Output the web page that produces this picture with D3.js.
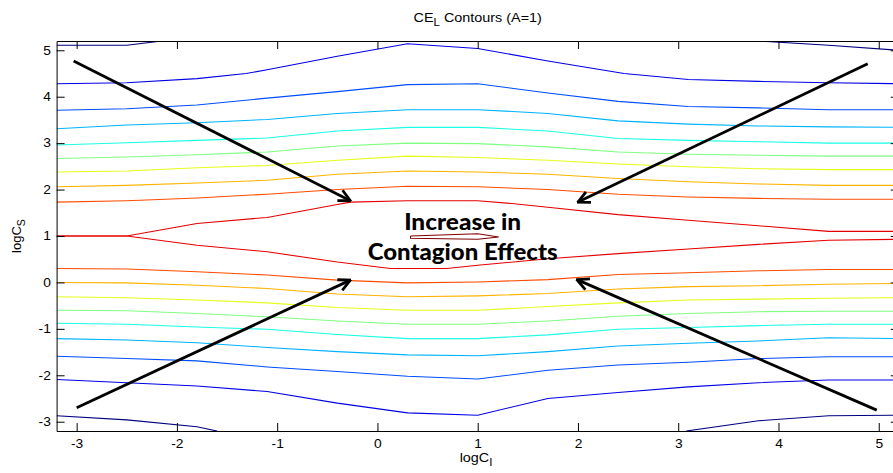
<!DOCTYPE html>
<html>
<head>
<meta charset="utf-8">
<script src="https://cdn.jsdelivr.net/npm/d3@7"></script>
<style>
  body { margin: 0; background: #fff; }
  svg { display: block; font-family: "Liberation Sans", Arial, sans-serif; }
</style>
</head>
<body>
<div id="chart"></div>
<script>
// axis ticks
const xTicks = [-3, -2, -1, 0, 1, 2, 3, 4, 5];
const yTicks = [-3, -2, -1, 0, 1, 2, 3, 4, 5];

// contour lines, points are [logC_I, logC_S]
// one array per contour level, outermost (lowest) level first
const level1 = [
  [[-3.2, 5.11], [-2.5, 5.11], [-2.15, 5.2]],
  [[3.8, 5.2], [4.5, 5.11], [5.2, 5.0]],
  [[-3.2, -2.87], [-2.5, -2.96], [-1.8, -3.11], [-1.6, -3.2]],
  [[3.08, -3.2], [3.8, -2.98], [4.5, -2.87], [5.2, -2.86]]
];
const level2 = [
  [[-3.2, 4.28], [-2.5, 4.30], [-1.8, 4.39], [-1.31, 4.5], [-1.1, 4.58], [-0.4, 4.87], [0.3, 5.14], [1.0, 5.04], [1.7, 4.77], [2.46, 4.5], [3.1, 4.37], [3.8, 4.33], [4.5, 4.30], [5.2, 4.28]],
  [[-3.2, -2.09], [-2.5, -2.16], [-1.8, -2.23], [-1.1, -2.35], [-0.4, -2.60], [0.3, -2.81], [1.0, -2.86], [1.7, -2.50], [2.4, -2.37], [3.1, -2.25], [3.8, -2.16], [4.5, -2.10], [5.2, -2.10]]
];
const level3 = [
  [[-3.2, 3.71], [-2.5, 3.74], [-1.8, 3.82], [-1.1, 3.97], [-0.4, 4.11], [0.3, 4.26], [1.0, 4.28], [1.7, 4.08], [2.4, 3.90], [3.1, 3.79], [3.8, 3.76], [4.5, 3.72], [5.2, 3.72]],
  [[-3.2, -1.59], [-2.5, -1.64], [-1.8, -1.69], [-1.1, -1.82], [-0.4, -1.92], [0.3, -2.02], [1.0, -2.08], [1.7, -1.89], [2.4, -1.78], [3.1, -1.72], [3.8, -1.64], [4.5, -1.60], [5.2, -1.60]]
];
const level4 = [
  [[-3.2, 3.31], [-2.5, 3.39], [-1.8, 3.44], [-1.1, 3.51], [-0.4, 3.64], [0.3, 3.72], [1.0, 3.72], [1.7, 3.64], [2.4, 3.48], [3.1, 3.41], [3.8, 3.37], [4.5, 3.35], [5.2, 3.34]],
  [[-3.2, -1.21], [-2.5, -1.24], [-1.8, -1.30], [-1.1, -1.40], [-0.4, -1.49], [0.3, -1.56], [1.0, -1.58], [1.7, -1.49], [2.4, -1.37], [3.1, -1.31], [3.8, -1.26], [4.5, -1.19], [5.2, -1.21]]
];
const level5 = [
  [[-3.2, 2.96], [-2.5, 3.01], [-1.8, 3.06], [-1.1, 3.11], [-0.4, 3.26], [0.3, 3.34], [1.0, 3.34], [1.7, 3.26], [2.4, 3.10], [3.1, 3.06], [3.8, 3.03], [4.5, 3.00], [5.2, 3.00]],
  [[-3.2, -0.88], [-2.5, -0.90], [-1.8, -0.96], [-1.1, -1.01], [-0.4, -1.12], [0.3, -1.21], [1.0, -1.21], [1.7, -1.13], [2.4, -1.01], [3.1, -0.97], [3.8, -0.93], [4.5, -0.90], [5.2, -0.90]]
];
const level6 = [
  [[-3.2, 2.67], [-2.5, 2.70], [-1.8, 2.75], [-1.1, 2.81], [-0.4, 2.94], [0.3, 3.00], [1.0, 2.99], [1.7, 2.92], [2.4, 2.81], [3.1, 2.76], [3.8, 2.74], [4.5, 2.72], [5.2, 2.72]],
  [[-3.2, -0.60], [-2.5, -0.61], [-1.8, -0.67], [-1.1, -0.74], [-0.4, -0.83], [0.3, -0.90], [1.0, -0.90], [1.7, -0.83], [2.4, -0.73], [3.1, -0.67], [3.8, -0.63], [4.5, -0.62], [5.2, -0.62]]
];
const level7 = [
  [[-3.2, 2.38], [-2.5, 2.40], [-1.8, 2.47], [-1.1, 2.52], [-0.4, 2.63], [0.3, 2.72], [1.0, 2.69], [1.7, 2.63], [2.4, 2.55], [3.1, 2.49], [3.8, 2.45], [4.5, 2.43], [5.2, 2.43]],
  [[-3.2, -0.31], [-2.5, -0.33], [-1.8, -0.38], [-1.1, -0.44], [-0.4, -0.54], [0.3, -0.60], [1.0, -0.60], [1.7, -0.52], [2.4, -0.44], [3.1, -0.38], [3.8, -0.36], [4.5, -0.34], [5.2, -0.33]]
];
const level8 = [
  [[-3.2, 2.06], [-2.5, 2.09], [-1.8, 2.14], [-1.1, 2.20], [-0.4, 2.33], [0.3, 2.40], [1.0, 2.38], [1.7, 2.33], [2.4, 2.24], [3.1, 2.17], [3.8, 2.12], [4.5, 2.09], [5.2, 2.09]],
  [[-3.2, 0.00], [-2.5, -0.01], [-1.8, -0.06], [-1.1, -0.13], [-0.4, -0.25], [0.3, -0.31], [1.0, -0.29], [1.7, -0.24], [2.4, -0.14], [3.1, -0.09], [3.8, -0.07], [4.5, -0.04], [5.2, -0.02]]
];
const level9 = [
  [[-3.2, 1.73], [-2.5, 1.76], [-1.8, 1.82], [-1.1, 1.90], [-0.4, 2.00], [0.3, 2.07], [1.0, 2.06], [1.7, 2.00], [2.4, 1.90], [3.1, 1.84], [3.8, 1.81], [4.5, 1.79], [5.2, 1.79]],
  [[-3.2, 0.30], [-2.5, 0.29], [-1.8, 0.23], [-1.1, 0.16], [-0.4, 0.05], [0.3, -0.01], [1.0, 0.01], [1.7, 0.06], [2.4, 0.17], [3.1, 0.21], [3.8, 0.25], [4.5, 0.28], [5.2, 0.28]]
];
const level10 = [
  [[-3.2, 1.0], [-2.5, 1.0], [-1.8, 1.27], [-1.1, 1.40], [-0.4, 1.68], [-0.27, 1.73], [0.3, 1.76], [1.0, 1.76], [1.34, 1.70], [1.7, 1.62], [2.4, 1.46], [3.1, 1.34], [3.8, 1.22], [4.5, 1.10], [5.2, 1.10]],
  [[-3.2, 1.0], [-2.5, 1.0], [-1.8, 0.80], [-1.1, 0.66], [-0.4, 0.44], [0.13, 0.30], [0.69, 0.30], [1.0, 0.37], [1.7, 0.51], [2.4, 0.62], [3.1, 0.72], [3.8, 0.82], [4.5, 0.91], [5.2, 0.93]]
];
const level11 = [
  [[0.33, 1.0], [1.0, 1.05], [1.21, 0.98], [1.0, 0.93], [0.33, 0.95], [0.33, 1.0]]
];
const levels = [level1, level2, level3, level4, level5, level6, level7, level8, level9, level10, level11];

// annotation arrows: [x0, y0, x1, y1] in data units, head at (x1, y1)
const arrows = [
  [-3.03, 4.77, -0.27, 1.76],
  [4.89, 4.71, 2.00, 1.73],
  [-3.00, -2.70, -0.27, 0.05],
  [4.98, -2.75, 1.99, 0.06]
];
const noteLines = ["Increase in", "Contagion Effects"];

const W = 893, H = 473;
const stretch = 1.15; // the figure text is a little wide

// matlab jet colormap
function jet(t) {
  const c = v => Math.round(255 * Math.max(0, Math.min(1, 1.5 - Math.abs(4 * t - v))));
  return "rgb(" + c(3) + "," + c(2) + "," + c(1) + ")";
}

const x = d3.scaleLinear().domain([-3.2, 5.2]).range([56.6, 898.8]);
const y = d3.scaleLinear().domain([-3.2, 5.2]).range([431, 41]);

const svg = d3.select("#chart").append("svg")
  .attr("width", W)
  .attr("height", H);

svg.append("defs").append("clipPath")
  .attr("id", "plotclip")
  .append("rect")
  .attr("x", x(-3.2)).attr("y", y(5.2))
  .attr("width", x(5.2) - x(-3.2))
  .attr("height", y(-3.2) - y(5.2));

svg.select("defs").append("marker")
  .attr("id", "head")
  .attr("viewBox", "0 0 12 12")
  .attr("refX", 11).attr("refY", 6)
  .attr("markerWidth", 14).attr("markerHeight", 14)
  .attr("markerUnits", "userSpaceOnUse")
  .attr("orient", "auto")
  .append("path")
  .attr("d", "M1,1 L11,6 L1,11")
  .attr("fill", "none")
  .attr("stroke", "#000")
  .attr("stroke-width", 2.4);

const line = d3.line().x(d => x(d[0])).y(d => y(d[1]));

// contour lines
const gLines = svg.append("g").attr("clip-path", "url(#plotclip)");
levels.forEach((segs, i) => {
  gLines.selectAll(null)
    .data(segs)
    .enter()
    .append("path")
    .attr("d", line)
    .attr("fill", "none")
    .attr("stroke", jet(i / 10))
    .attr("stroke-width", 1.1);
});

// axes, matlab style box with inward ticks
function styleAxis(g) {
  g.attr("font-size", 12).attr("font-family", '"Liberation Sans", Arial, sans-serif');
  g.select(".domain").attr("stroke", "#000").attr("stroke-width", 1);
  g.selectAll(".tick line").attr("stroke", "#000");
  g.selectAll(".tick text").attr("fill", "#000").attr("transform", "scale(" + stretch + ",1)");
}

svg.append("g")
  .attr("transform", "translate(0," + y(-3.2) + ")")
  .call(d3.axisBottom(x).tickValues(xTicks).tickFormat(d => String(d))
    .tickSizeInner(-8).tickSizeOuter(0).tickPadding(8))
  .call(styleAxis);

svg.append("g")
  .attr("transform", "translate(0," + y(5.2) + ")")
  .call(d3.axisTop(x).tickValues(xTicks).tickFormat("")
    .tickSizeInner(-8).tickSizeOuter(0))
  .call(styleAxis);

svg.append("g")
  .attr("transform", "translate(" + x(-3.2) + ",0)")
  .call(d3.axisLeft(y).tickValues(yTicks).tickFormat(d => String(d))
    .tickSizeInner(-8).tickSizeOuter(0).tickPadding(5))
  .call(styleAxis);

svg.append("g")
  .attr("transform", "translate(" + x(5.2) + ",0)")
  .call(d3.axisRight(y).tickValues(yTicks).tickFormat("")
    .tickSizeInner(-8).tickSizeOuter(0))
  .call(styleAxis);

// title
const title = svg.append("text")
  .attr("transform", "translate(" + ((x(-3.2) + x(5.2)) / 2) + ",21.7) scale(" + stretch + ",1)")
  .attr("text-anchor", "middle")
  .attr("font-size", 12.5)
  .attr("fill", "#000");
title.append("tspan").text("CE");
title.append("tspan").attr("dy", 4).attr("font-size", 10).text("L");
title.append("tspan").attr("dy", -4).text(" Contours (A=1)");

// x label
const xl = svg.append("text")
  .attr("transform", "translate(476,462.3) scale(" + stretch + ",1)")
  .attr("text-anchor", "middle")
  .attr("font-size", 12.5)
  .attr("fill", "#000");
xl.append("tspan").text("logC");
xl.append("tspan").attr("dy", 4).attr("font-size", 10).text("I");

// y label
const yl = svg.append("text")
  .attr("transform", "translate(21," + y(1) + ") rotate(-90)")
  .attr("text-anchor", "middle")
  .attr("font-size", 13)
  .attr("fill", "#000");
yl.append("tspan").text("logC");
yl.append("tspan").attr("dy", 4).attr("font-size", 10.5).text("S");

// arrows
svg.append("g")
  .selectAll("line")
  .data(arrows)
  .enter()
  .append("line")
  .attr("x1", d => x(d[0])).attr("y1", d => y(d[1]))
  .attr("x2", d => x(d[2])).attr("y2", d => y(d[3]))
  .attr("stroke", "#000")
  .attr("stroke-width", 2.8)
  .attr("marker-end", "url(#head)");

// note text
const noteWidths = [117, 190];
const noteY = [1.14, 0.48];
svg.append("g")
  .selectAll("text")
  .data(noteLines)
  .enter()
  .append("text")
  .attr("x", x(0.85))
  .attr("y", (d, i) => y(noteY[i]))
  .attr("text-anchor", "middle")
  .attr("font-family", "Lato, 'Open Sans', sans-serif")
  .attr("font-weight", 900)
  .attr("font-size", 22.5)
  .attr("textLength", (d, i) => noteWidths[i])
  .attr("lengthAdjust", "spacingAndGlyphs")
  .attr("fill", "#000")
  .text(d => d);
</script>
</body>
</html>
